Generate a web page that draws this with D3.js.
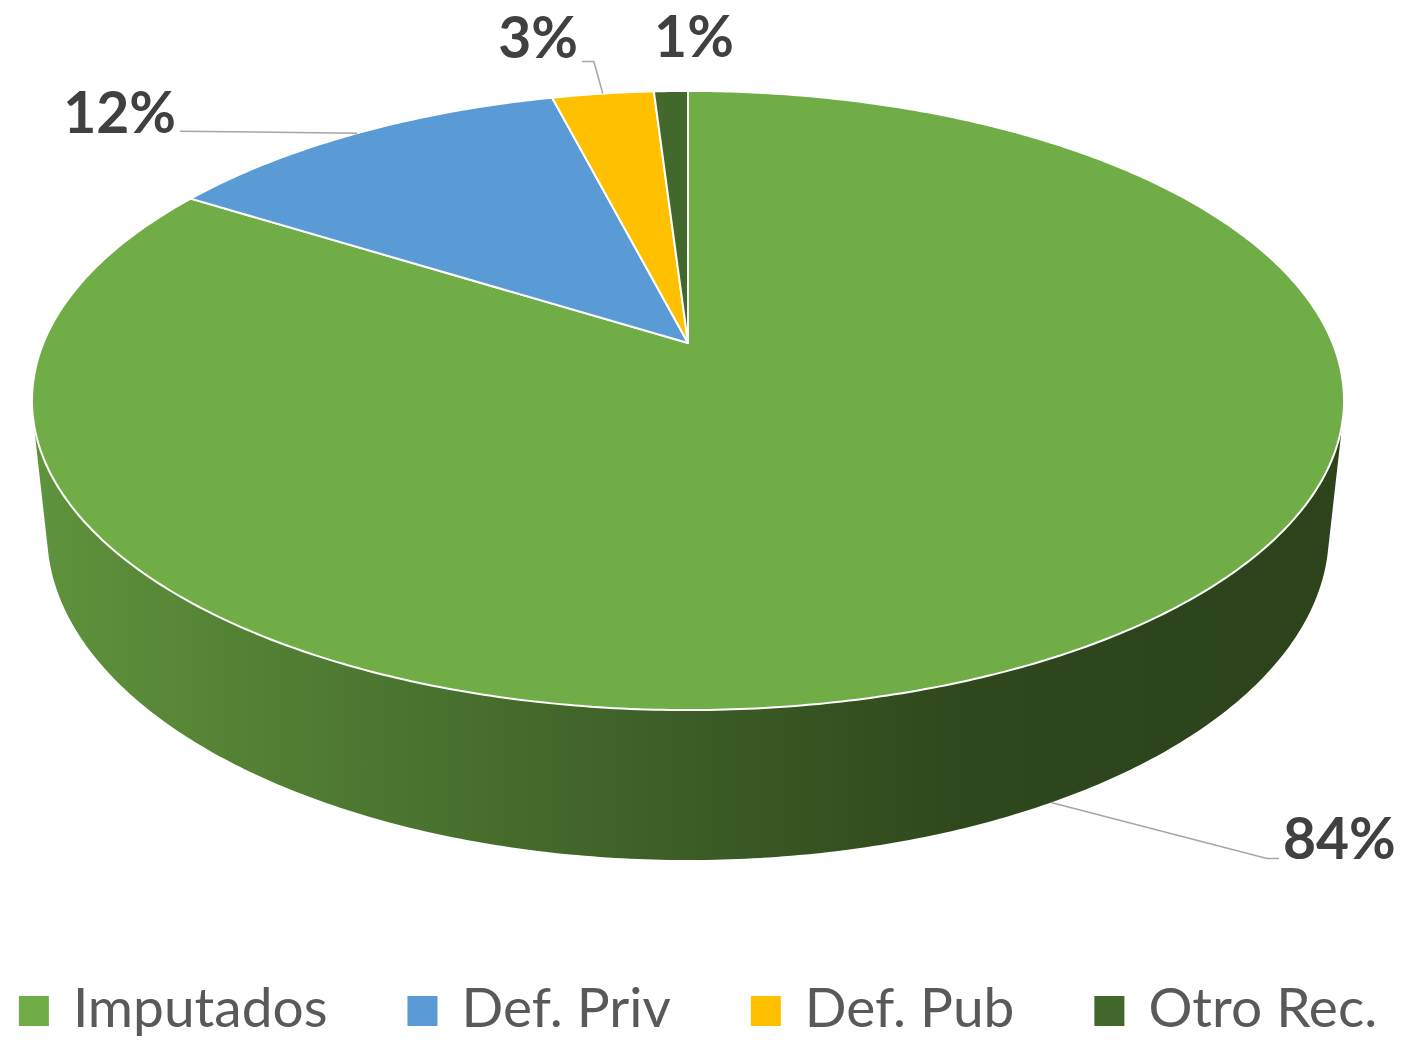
<!DOCTYPE html>
<html lang="es">
<head>
    <meta charset="UTF-8">
    <title>Pie 3D - Imputados / Defensores</title>
    <script src="https://d3js.org/d3.v7.min.js"></script>
    <style>
        body {
            margin: 0;
            background: #fff;
        }
        svg {
            display: block;
            font-family: Lato, "Open Sans", sans-serif;
        }
        .label {
            font-weight: bold;
            font-size: 57px;
            fill: #404040;
        }
        .legend-text {
            font-size: 55px;
            fill: #595959;
        }
        .leader {
            fill: none;
            stroke: #a6a6a6;
            stroke-width: 1.5;
        }
    </style>
</head>
<body>
    <svg id="chart" width="1402" height="1040"></svg>
    <script>
        // datos
        const categories = ["Imputados", "Def. Priv", "Def. Pub", "Otro Rec."];
        const values = [83.9, 12.1, 3.0, 1.0];
        const labels = ["84%", "12%", "3%", "1%"];
        const colors = ["#70ad47", "#5b9bd5", "#ffc000", "#43682b"];

        const svg = d3.select("#chart"),
              width = +svg.attr("width"),
              height = +svg.attr("height");

        svg.append("rect").attr("width", width).attr("height", height).attr("fill", "#fff");

        // camara en perspectiva (vista desde arriba)
        const cx = 688, cy = 343;
        const F = 3074, D = 4.769;
        const sinP = 0.4637, cosP = 0.886;
        const thick = 0.2344;

        // theta: horario desde las 12, t: 0 = cara superior, thick = base
        function proj(theta, t) {
            const u = Math.sin(theta), v = -Math.cos(theta);
            const den = D + t * sinP - v * cosP;
            return [cx + F * u / den, cy + F * (t * cosP + v * sinP) / den];
        }

        function arcPts(a0, a1, t) {
            const n = Math.max(2, Math.ceil(Math.abs(a1 - a0) / 0.01));
            return d3.range(n + 1).map(i => proj(a0 + (a1 - a0) * i / n, t));
        }

        const pie = d3.pie().sort(null).value(d => d);
        const arcs = pie(values);

        const defs = svg.append("defs");
        const g = svg.append("g");

        // pared lateral visible (solo la parte que mira a la camara)
        const vt = 1 / (D * cosP);
        const visA = Math.acos(-vt), visB = 2 * Math.PI - Math.acos(-vt);
        const shade = [[0.0, 0.85], [0.2, 0.72], [0.5, 0.54], [0.72, 0.41], [1.0, 0.39]];

        arcs.forEach((a, i) => {
            const s = Math.max(a.startAngle, visA), e = Math.min(a.endAngle, visB);
            if (e <= s) return;
            const base = d3.rgb(colors[i]);
            const grad = defs.append("linearGradient")
                .attr("id", "side" + i)
                .attr("gradientUnits", "userSpaceOnUse")
                .attr("x1", proj(visB, 0)[0]).attr("x2", proj(visA, 0)[0])
                .attr("y1", 0).attr("y2", 0);
            shade.forEach(([o, k]) => {
                grad.append("stop").attr("offset", o)
                    .attr("stop-color", d3.rgb(base.r * k, base.g * k, base.b * k).formatHex());
            });
            const pts = arcPts(s, e, 0).concat(arcPts(e, s, thick));
            g.append("path")
                .attr("d", d3.line()(pts) + "Z")
                .attr("fill", `url(#side${i})`);
        });

        // caras superiores
        arcs.forEach((a, i) => {
            const pts = [[cx, cy]].concat(arcPts(a.startAngle, a.endAngle, 0));
            g.append("path")
                .attr("d", d3.line()(pts) + "Z")
                .attr("fill", colors[i])
                .attr("stroke", "#fff")
                .attr("stroke-width", 2)
                .attr("stroke-linejoin", "round");
        });

        // etiquetas de datos con lineas guia
        const mid = a => (a.startAngle + a.endAngle) / 2;
        const labelLayout = [
            { onSide: true,  path: [[216, 56], [228, 56]], tx: 1283, ty: 859, anchor: "start" },
            { onSide: false, path: [[-177, -2]],           tx: 176,  ty: 133, anchor: "end" },
            { onSide: false, path: [[-9, -32], [-21, -32]], tx: 578, ty: 58,  anchor: "end" },
            { onSide: false, path: null,                   tx: 694,  ty: 57,  anchor: "middle" }
        ];

        arcs.forEach((a, i) => {
            const L = labelLayout[i];
            const p0 = proj(mid(a), L.onSide ? thick : 0);
            if (L.path) {
                const pts = [p0].concat(L.path.map(([dx, dy]) => [p0[0] + dx, p0[1] + dy]));
                svg.append("path").attr("class", "leader").attr("d", d3.line()(pts));
            }
            svg.append("text")
                .attr("class", "label")
                .attr("x", L.tx).attr("y", L.ty)
                .attr("text-anchor", L.anchor)
                .text(labels[i]);
        });

        // leyenda
        const legend = svg.append("g");
        const items = categories.map((c, i) => {
            const it = legend.append("g");
            it.append("rect").attr("x", 0).attr("y", 996).attr("width", 30).attr("height", 30)
                .attr("fill", colors[i]);
            const tx = it.append("text").attr("class", "legend-text")
                .attr("x", 54).attr("y", 1027).text(c);
            return { it, w: 54 + tx.node().getComputedTextLength() };
        });
        const gap = 80;
        const total = d3.sum(items, d => d.w) + gap * (items.length - 1);
        let x = 698 - total / 2;
        items.forEach(d => {
            d.it.attr("transform", `translate(${x},0)`);
            x += d.w + gap;
        });
    </script>
</body>
</html>
